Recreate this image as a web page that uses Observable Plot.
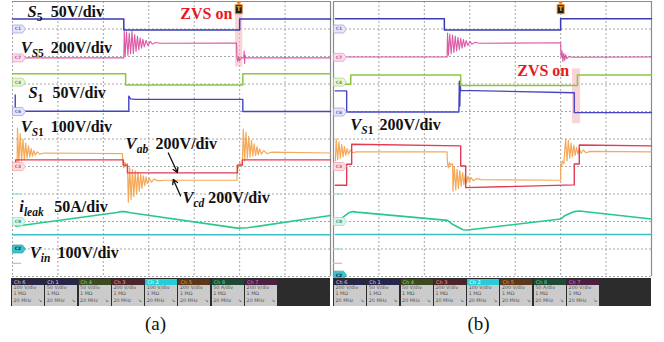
<!DOCTYPE html>
<html><head><meta charset="utf-8">
<script src="https://cdn.jsdelivr.net/npm/d3@7"></script>
<script src="https://cdn.jsdelivr.net/npm/@observablehq/plot@0.6"></script>
<style>
html,body{margin:0;padding:0;background:#fff;}
#wrap{position:relative;width:664px;height:342px;overflow:hidden;font-family:"Liberation Serif",serif;background:#fff;}
.panel{position:absolute;top:0;}
.bar{position:absolute;top:278px;height:28px;background:#2c2c2c;display:flex;gap:1.3px;padding-left:1px;box-sizing:border-box;}
.box{width:32px;height:27px;margin-top:0.5px;display:flex;flex-direction:column;font-family:"DejaVu Sans",sans-serif;}
.hd{height:6px;font-size:5px;line-height:6px;padding-left:2px;}
.bd{flex:1;background:#cbcbcb;color:#555;font-size:4.8px;line-height:6.4px;padding-left:1.5px;padding-top:0.5px;}
.bd .r{display:flex;justify-content:space-between;padding-right:2px;}
.cap{position:absolute;top:313px;font-size:19px;transform:translateX(-50%);color:#111;}
</style></head>
<body>
<div id="wrap">
  <div id="pa" class="panel" style="left:0"></div>
  <div id="pb" class="panel" style="left:332px"></div>
  <div id="barA" class="bar" style="left:11px;width:319px"></div>
  <div id="barB" class="bar" style="left:333px;width:318px"></div>
  <div class="cap" style="left:155.5px">(a)</div>
  <div class="cap" style="left:478.5px">(b)</div>
</div>
<script>
// ---------- grid divisions ----------
const xDivs = [0,1,2,3,4,5,6,7];
const yDivs = [0,1,2,3,4,5,6,7,8,9,10];

// ---------- panel (a) waveforms: [time div, level div] ----------
const S5_a = [[0,9.36],[2.45,9.36],[2.45,8.96],[5.0,8.96],[5.0,9.36],[7,9.36]];
const VS5_a = [[0,7.95],[2.45,7.95],[2.46,8.93],[2.48,8.02],[2.51,8.9],[2.54,8.05],[2.57,8.85],[2.60,8.1],[2.63,8.92],[2.66,8.1],[2.69,8.8],[2.72,8.18],[2.75,8.74],[2.78,8.24],[2.81,8.68],[2.84,8.3],[2.87,8.63],[2.90,8.35],[2.94,8.59],[2.98,8.4],[3.03,8.55],[3.08,8.45],[3.15,8.51],[3.25,8.48],[4.93,8.49],[4.94,7.95],[4.96,7.82],[4.98,8.0],[5.0,7.85],[5.03,7.95],[5.09,7.95],[5.10,8.2],[5.11,7.75],[5.12,8.05],[5.14,7.95],[7,7.95]];
const S1_a = [[0,7.37],[2.49,7.37],[2.49,6.96],[5.07,6.96],[5.07,7.37],[7,7.37]];
const VS1_a = [[0.06,6.6],[0.06,6.01],[2.56,6.01],[2.56,6.56],[2.6,6.46],[2.7,6.44],[5.07,6.44],[5.07,6.0],[7,6.0]];
const Vab_a = [[0.07,4.1],[0.07,4.24],[2.44,4.24],[2.44,4.05],[2.53,4.05],[2.53,3.77],[4.95,3.77],[4.95,4.05],[5.06,4.05],[5.06,4.24],[7,4.24]];
const Vcd_a = [[0.1,4.0],[0.11,5.4],[0.14,4.1],[0.17,5.2],[0.2,4.2],[0.23,5.0],[0.26,4.25],[0.29,4.85],[0.32,4.3],[0.35,4.75],[0.38,4.35],[0.41,4.65],[0.44,4.38],[0.47,4.58],[0.5,4.42],[0.55,4.53],[0.6,4.45],[0.7,4.49],[2.42,4.47],
  [2.43,4.1],[2.45,3.95],[2.47,4.15],[2.5,4.05],[2.53,4.1],[2.55,2.7],[2.58,3.95],[2.61,2.8],[2.64,3.9],[2.67,2.9],[2.70,3.85],[2.73,3.0],[2.76,3.8],[2.79,3.1],[2.82,3.72],[2.85,3.2],[2.88,3.66],[2.91,3.3],[2.94,3.62],[2.97,3.38],[3.01,3.57],[3.06,3.43],[3.12,3.54],[3.2,3.48],[3.35,3.5],[4.94,3.5],
  [4.95,4.05],[4.97,3.95],[5.0,4.15],[5.03,4.05],[5.06,4.1],[5.08,5.36],[5.11,4.2],[5.14,5.25],[5.17,4.3],[5.20,5.1],[5.23,4.35],[5.26,4.95],[5.29,4.38],[5.32,4.82],[5.35,4.4],[5.38,4.72],[5.41,4.42],[5.44,4.64],[5.48,4.45],[5.53,4.58],[5.6,4.47],[5.7,4.52],[7,4.49]];
const Ileak_a = [[0.07,1.83],[2.30,2.33],[2.38,2.36],[2.47,2.36],[2.6,2.32],[4.95,1.76],[5.17,1.77],[7,2.22]];
const Vin_a = [[0,1.52],[7,1.52]];

// ---------- panel (b) waveforms ----------
const S5_b = [[0.04,9.37],[2.44,9.37],[2.44,8.96],[5.0,8.96],[5.0,9.37],[7,9.37]];
const VS5_b = [[0.04,7.98],[2.50,7.98],[2.51,8.85],[2.53,8.05],[2.56,8.82],[2.59,8.1],[2.62,8.78],[2.65,8.15],[2.68,8.74],[2.71,8.2],[2.74,8.7],[2.77,8.25],[2.80,8.66],[2.83,8.3],[2.86,8.62],[2.89,8.35],[2.92,8.58],[2.96,8.4],[3.0,8.55],[3.05,8.45],[3.12,8.52],[3.2,8.48],[5.0,8.5],[5.01,7.98],[5.03,8.2],[5.05,7.82],[5.07,8.12],[5.09,7.86],[5.11,8.06],[5.14,7.92],[5.18,8.0],[5.25,7.97],[7,7.98]];
const S1_b = [[0.04,6.99],[0.38,6.99],[0.38,7.33],[2.80,7.33],[2.80,6.95],[5.37,6.95],[5.37,7.33],[7,7.33]];
const VS1_b = [[0.04,6.75],[0.29,6.75],[0.29,5.98],[2.76,5.98],[2.77,7.1],[2.78,6.2],[2.79,6.95],[2.80,6.77],[5.30,6.68],[5.30,5.96],[7,5.96]];
const Vab_b = [[0.04,3.32],[0.29,3.32],[0.29,4.08],[0.40,4.08],[0.40,4.81],[2.80,4.75],[2.80,4.02],[2.91,4.02],[2.91,3.23],[5.30,3.33],[5.30,4.09],[5.41,4.09],[5.41,4.78],[7,4.75]];
const Vcd_b = [[0.04,4.2],[0.06,5.0],[0.09,4.25],[0.12,4.9],[0.15,4.3],[0.18,4.8],[0.21,4.35],[0.24,4.72],[0.27,4.4],[0.30,4.65],[0.33,4.45],[0.37,4.6],[0.42,4.5],[0.5,4.53],[2.50,4.53],
  [2.51,4.1],[2.53,3.95],[2.55,4.15],[2.58,4.05],[2.62,4.1],[2.63,3.1],[2.66,4.0],[2.69,3.15],[2.72,3.9],[2.75,3.2],[2.78,3.85],[2.81,3.28],[2.84,3.78],[2.87,3.35],[2.90,3.7],[2.93,3.4],[2.96,3.65],[2.99,3.45],[3.03,3.6],[3.08,3.48],[3.14,3.56],[3.25,3.52],[5.0,3.5],
  [5.0,4.1],[5.02,4.0],[5.04,4.2],[5.07,4.1],[5.11,5.0],[5.14,4.2],[5.17,4.95],[5.20,4.3],[5.23,4.85],[5.26,4.35],[5.29,4.78],[5.32,4.4],[5.35,4.7],[5.38,4.45],[5.41,4.65],[5.45,4.48],[5.5,4.6],[5.56,4.5],[5.65,4.55],[7,4.53]];
const Ileak_b = [[0.04,1.95],[0.35,2.33],[0.42,2.36],[0.5,2.34],[2.51,2.04],[2.6,1.92],[2.85,1.7],[2.95,1.69],[5.0,2.09],[5.1,2.22],[5.3,2.36],[5.41,2.38],[7,2.09]];
const Vin_b = [[0.04,1.53],[7,1.53]];

// ---------- channel badges & reference ticks ----------
const badgesA = [{ch:"C1",v:9.0},{ch:"C7",v:7.95},{ch:"C4",v:7.07},{ch:"C6",v:6.0},{ch:"C3",v:4.0},{ch:"C8",v:2.0},{ch:"C2",v:1.0}];
const badgesB = [{ch:"C1",v:9.0},{ch:"C7",v:7.97},{ch:"C4",v:7.07},{ch:"C6",v:5.98},{ch:"C3",v:4.0},{ch:"C8",v:2.0},{ch:"C2",v:0.05}];
const refA = [{v:3.0,c:"mint"},{v:0.48,c:"pink"}];
const refB = [{v:3.0,c:"mint"},{v:1.0,c:"mint"},{v:0.48,c:"pink"}];

// ---------- annotations ----------
const labelsA = [
  {sym:"S|5",  t:0.33, v:9.62, val:"50V/div",  tv:0.84},
  {sym:"V|S5", t:0.18, v:8.33, val:"200V/div", tv:0.84},
  {sym:"S|1",  t:0.35, v:6.69, val:"50V/div",  tv:0.88},
  {sym:"V|S1", t:0.18, v:5.44, val:"100V/div", tv:0.84},
  {sym:"V|ab", t:2.49, v:4.82, val:"200V/div", tv:3.15},
  {sym:"V|cd", t:3.74, v:2.85, val:"200V/div", tv:4.31},
  {sym:"i|leak", t:0.15, v:2.55, val:"50A/div", tv:0.92},
  {sym:"V|in", t:0.38, v:0.87, val:"100V/div", tv:0.99}
];
const labelsB = [{sym:"V|S1", t:0.37, v:5.51, val:"200V/div", tv:1.01}];
const zvsTextA = [{t:4.84, v:9.55, s:"ZVS on"}];
const zvsTextB = [{t:5.19, v:7.47, s:"ZVS on"}];
const zvsBoxA = [{t1:4.91, t2:5.07, v1:7.62, v2:9.8}];
const zvsBoxB = [{t1:5.26, t2:5.44, v1:5.56, v2:7.55}];
const arrowsA = [{t1:3.43, v1:4.49, t2:3.63, v2:3.78},{t1:3.70, v1:2.93, t2:3.54, v2:3.53}];
const trigA = [{t:4.98, v:9.72}];
const trigB = [{t:5.0, v:9.72}];

// ---------- status bar ----------
const chNames = ["Ch 6","Ch 1","Ch 4","Ch 3","Ch 2","Ch 5","Ch 8","Ch 7"];
const chScaleA = ["100 V/div","50 V/div","50 V/div","200 V/div","100 V/div","200 V/div","50 A/div","200 V/div"];
const chScaleB = ["200 V/div","50 V/div","50 V/div","200 V/div","100 V/div","200 V/div","50 A/div","200 V/div"];
const chImp = "1 MΩ", chBw = "20 MHz";

// ---------- styles ----------
const col = {S5:"#3a3cb4", VS5:"#d8479c", S1:"#8dc63f", VS1:"#4545c2", Vab:"#e23b54", Vcd:"#f4a048", Ileak:"#27c98b", Vin:"#3bbec7"};
const badgeFill = {C1:"#e6e6f8",C7:"#f9dced",C4:"#e8f5d8",C6:"#e6e6f8",C3:"#fbdde0",C8:"#d8f5ea",C2:"#3cc3cb"};
const badgeStroke = {C1:"#9c9ce0",C7:"#e49ac6",C4:"#a8d47a",C6:"#9c9ce0",C3:"#f0a0aa",C8:"#8fdcc0",C2:"#2aa7b0"};
const badgeText = {C1:"#6a6ac0",C7:"#c0508a",C4:"#6a9a3a",C6:"#6a6ac0",C3:"#c85060",C8:"#3a9a78",C2:"#114"};
const refCol = {mint:"#8fe3c4", pink:"#f3a3c8"};
const chHead = ["#26264c","#26264c","#3d4a1f","#4d2429","#25ced6","#5e3618","#1b4b36","#4b1f41"];
const chHeadText = ["#ddd","#ddd","#a3d35c","#f0a0a8","#fff","#f09a3c","#3fe0a0","#e27cc0"];

const pentagon = {draw(c){c.moveTo(-6.5,-4);c.lineTo(3.5,-4);c.lineTo(6.5,0);c.lineTo(3.5,4);c.lineTo(-6.5,4);c.closePath();}};
const trigSym = {draw(c){c.moveTo(-3.5,-4.5);c.lineTo(3.5,-4.5);c.lineTo(3.5,4.5);c.lineTo(-3.5,4.5);c.closePath();}};

const P = d => d[0], V = d => d[1];
const SERIF = "Liberation Serif";

function traces(set){
  return [
    Plot.line(set.Vin, {x:P, y:V, stroke:col.Vin, strokeWidth:1.5}),
    Plot.line(set.Ileak, {x:P, y:V, stroke:col.Ileak, strokeWidth:1.6}),
    Plot.line(set.Vcd, {x:P, y:V, stroke:col.Vcd, strokeWidth:1.2, strokeOpacity:0.9}),
    Plot.line(set.Vab, {x:P, y:V, stroke:col.Vab, strokeWidth:1.4}),
    Plot.line(set.VS1, {x:P, y:V, stroke:col.VS1, strokeWidth:1.4}),
    Plot.line(set.S1, {x:P, y:V, stroke:col.S1, strokeWidth:1.5}),
    Plot.line(set.VS5, {x:P, y:V, stroke:col.VS5, strokeWidth:1.1, strokeOpacity:0.9}),
    Plot.line(set.S5, {x:P, y:V, stroke:col.S5, strokeWidth:1.5})
  ];
}

function makePanel(cfg){
  return Plot.plot({
    width:332, height:277, marginLeft:cfg.ml, marginRight:cfg.mr, marginTop:1, marginBottom:1,
    x:{domain:[0,7], axis:null}, y:{domain:[0,10], axis:null},
    style:{background:"transparent", overflow:"visible"},
    marks:[
      Plot.ruleX(xDivs, {stroke:"#9c9c9c", strokeDasharray:"2,2", strokeWidth:0.9}),
      Plot.ruleY(yDivs, {stroke:"#9c9c9c", strokeDasharray:"2,2", strokeWidth:0.9}),
      Plot.ruleY([10], {stroke:"#8c8c8c", strokeWidth:1.2}),
      Plot.ruleX(cfg.solidX, {stroke:"#8c8c8c", strokeWidth:1.2}),
      Plot.rect(cfg.box, {x1:"t1", x2:"t2", y1:"v1", y2:"v2", fill:"#f5b7be", fillOpacity:0.6}),
      ...traces(cfg.set),
      Plot.ruleY(cfg.refs, {y:"v", x1:0, x2:0.2, stroke:d=>refCol[d.c], strokeWidth:1.2}),
      Plot.dot(cfg.badges, {x:0, y:"v", dx:6.5, symbol:pentagon, fill:d=>badgeFill[d.ch], stroke:d=>badgeStroke[d.ch], strokeWidth:0.7}),
      Plot.text(cfg.badges, {x:0, y:"v", dx:5.5, text:"ch", fontSize:4.5, fontWeight:"bold", fontFamily:"DejaVu Sans", fill:d=>badgeText[d.ch]}),
      Plot.dot(cfg.trig, {x:"t", y:"v", symbol:"triangle", rotate:180, r:2, fill:"#f08a24", stroke:null, dy:-6.5}),
      Plot.dot(cfg.trig, {x:"t", y:"v", symbol:trigSym, fill:"#1d1d1d", stroke:"#f08a24", strokeWidth:1}),
      Plot.text(cfg.trig, {x:"t", y:"v", text:()=>"T", fill:"#f6a446", fontSize:6.5, fontWeight:"bold", fontFamily:"DejaVu Sans"}),
      Plot.text(cfg.labels, {x:"t", y:"v", text:"sym", textAnchor:"start", fontSize:16.5, fontWeight:"bold", fontFamily:SERIF, fill:"#111"}),
      Plot.text(cfg.labels, {x:"tv", y:"v", text:"val", textAnchor:"start", fontSize:16, fontWeight:"bold", fontFamily:SERIF, fill:"#111"}),
      Plot.text(cfg.zvs, {x:"t", y:"v", text:"s", textAnchor:"end", fontSize:16, fontWeight:"bold", fontFamily:SERIF, fill:"#e8191e"}),
      Plot.arrow(cfg.arrows, {x1:"t1", y1:"v1", x2:"t2", y2:"v2", stroke:"#111", strokeWidth:1.3, headLength:6})
    ]
  });
}

// turn "V|S5" into a symbol with subscript
function richify(svg){
  d3.select(svg).selectAll("text").each(function(){
    const s = this.textContent;
    if (!s || s.indexOf("|") < 0) return;
    const [main, sub] = s.split("|");
    const el = d3.select(this);
    el.selectAll("*").remove();
    el.text(null);
    el.append("tspan").attr("font-style","italic").text(main);
    (sub.match(/[A-Za-z]+|[0-9]+/g) || []).forEach((r,i) => {
      const ts = el.append("tspan").attr("font-size", 11.5).text(r);
      if (i === 0) ts.attr("dy", 4);
      if (/[A-Za-z]/.test(r)) ts.attr("font-style","italic");
    });
  });
}

const svgA = makePanel({ml:12, mr:2, solidX:[7], box:zvsBoxA, refs:refA, badges:badgesA, trig:trigA, labels:labelsA, zvs:zvsTextA, arrows:arrowsA,
  set:{S5:S5_a, VS5:VS5_a, S1:S1_a, VS1:VS1_a, Vab:Vab_a, Vcd:Vcd_a, Ileak:Ileak_a, Vin:Vin_a}});
const svgB = makePanel({ml:1, mr:13, solidX:[0,7], box:zvsBoxB, refs:refB, badges:badgesB, trig:trigB, labels:labelsB, zvs:zvsTextB, arrows:[],
  set:{S5:S5_b, VS5:VS5_b, S1:S1_b, VS1:VS1_b, Vab:Vab_b, Vcd:Vcd_b, Ileak:Ileak_b, Vin:Vin_b}});
richify(svgA); richify(svgB);
document.getElementById("pa").appendChild(svgA);
document.getElementById("pb").appendChild(svgB);

function bar(id, scales){
  const el = d3.select("#"+id);
  chNames.forEach((n,i) => {
    const b = el.append("div").attr("class","box");
    b.append("div").attr("class","hd").style("background", chHead[i]).style("color", chHeadText[i]).text(n);
    const bd = b.append("div").attr("class","bd");
    bd.append("div").text(scales[i]);
    bd.append("div").text(chImp);
    const r = bd.append("div").attr("class","r");
    r.append("span").text(chBw);
    r.append("span").text("↘");
  });
}
bar("barA", chScaleA);
bar("barB", chScaleB);
</script>
</body></html>
